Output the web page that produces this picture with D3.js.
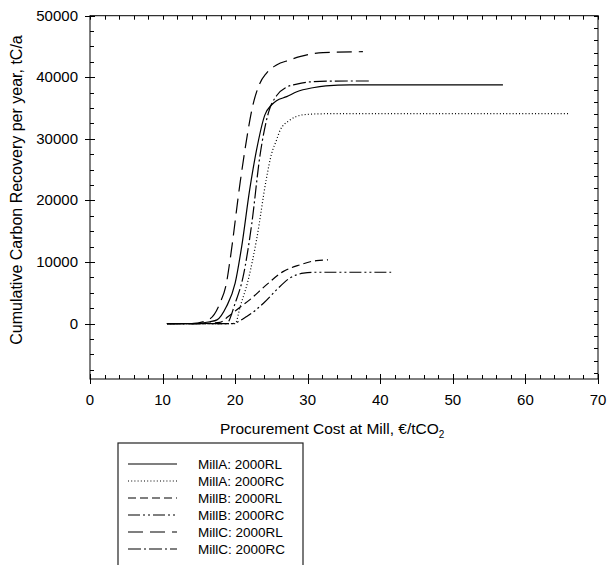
<!DOCTYPE html>
<html>
<head>
<meta charset="utf-8">
<script src="https://cdn.jsdelivr.net/npm/d3@7"></script>
<style>
  body { margin: 0; background: #fff; }
  svg { font-family: "Liberation Sans", Arial, sans-serif; }
</style>
</head>
<body>
<div id="root"></div>
<script>
const width = 608;
const height = 565;

// series data (cost €/tCO2, carbon tC/a)
const millA_RL_x = [10.6, 14, 16.5, 17.5, 18.8, 20.0, 20.9, 22.0, 22.95, 24.1, 25.0, 25.7, 27.1, 28.5, 30.7, 32.5, 35.8, 45, 56.9];
const millA_RL_y = [0, 0, 300, 600, 2760, 6560, 12500, 21700, 28200, 33900, 35500, 36200, 36850, 37650, 38300, 38600, 38750, 38750, 38750];

const millA_RC_x = [10.6, 15, 18, 20.0, 20.7, 21.8, 22.95, 24.3, 25.0, 25.7, 26.2, 27.5, 29.3, 31.2, 34, 66];
const millA_RC_y = [0, 0, 0, 0, 2760, 7100, 13600, 23500, 27500, 29800, 31400, 33000, 33900, 34050, 34100, 34100];

const millB_RL_x = [10.6, 15, 17.9, 19.05, 20.5, 22.0, 24.3, 26.6, 28.9, 31.2, 32.8];
const millB_RL_y = [0, 0, 200, 1140, 2500, 3850, 6280, 8440, 9530, 10230, 10340];

const millB_RC_x = [10.6, 15, 19.5, 21.6, 23.9, 25.7, 27.5, 29.4, 31.2, 41.5];
const millB_RC_y = [0, 0, 0, 1140, 3300, 5470, 7370, 8180, 8340, 8340];

const millC_RL_x = [10.6, 14, 16.3, 17.9, 18.8, 19.3, 20.7, 21.8, 22.3, 23.4, 24.3, 25.7, 27.5, 28.9, 32.1, 37.6];
const millC_RL_y = [0, 0, 600, 3300, 6560, 10340, 23000, 31500, 34700, 39000, 40650, 42000, 42800, 43350, 44000, 44150];

const millC_RC_x = [10.6, 15, 18.8, 20.0, 21.1, 22.3, 23.4, 24.6, 25.7, 27.1, 28.5, 30.3, 33, 38.8];
const millC_RC_y = [0, 0, 0, 3300, 7630, 16300, 27100, 34300, 37000, 38400, 38900, 39250, 39380, 39400];

const seriesNames = ["MillA: 2000RL", "MillA: 2000RC", "MillB: 2000RL", "MillB: 2000RC", "MillC: 2000RL", "MillC: 2000RC"];
const xTicks = [0, 10, 20, 30, 40, 50, 60, 70];
const yTicks = [0, 10000, 20000, 30000, 40000, 50000];

const dashes = [null, "1,2.2", "8,4", "12,3,2,3,2,3", "15,7", "13,3,2,3"];

const series = [
  [millA_RL_x, millA_RL_y], [millA_RC_x, millA_RC_y],
  [millB_RL_x, millB_RL_y], [millB_RC_x, millB_RC_y],
  [millC_RL_x, millC_RL_y], [millC_RC_x, millC_RC_y]
].map((s, i) => ({ name: seriesNames[i], dash: dashes[i], pts: s[0].map((x, j) => [x, s[1][j]]) }));

const plotL = 90, plotR = 598, plotT = 15.7, plotB = 379;

const svg = d3.select("#root").append("svg")
  .attr("width", width)
  .attr("height", height);

const x = d3.scaleLinear().domain([0, 70]).range([plotL, plotR]);
const y = d3.scaleLinear().domain([-9000, 50000]).range([plotB, plotT]);

// frame
svg.append("rect")
  .attr("x", plotL).attr("y", plotT)
  .attr("width", plotR - plotL).attr("height", plotB - plotT)
  .attr("fill", "none").attr("stroke", "#000").attr("stroke-width", 1);

const tickG = svg.append("g").attr("stroke", "#000").attr("stroke-width", 1);

// bottom + top ticks every 2
d3.range(0, 70.01, 2).forEach(v => {
  const major = v % 10 === 0;
  const px = Math.round(x(v)) + 0.5;
  tickG.append("line").attr("x1", px).attr("x2", px)
    .attr("y1", major ? plotB + 5 : plotB).attr("y2", plotB - (major ? 5 : 4));
  tickG.append("line").attr("x1", px).attr("x2", px)
    .attr("y1", plotT).attr("y2", plotT + 4);
});

// left ticks every 2500
d3.range(-7500, 50001, 2500).forEach(v => {
  const major = v % 10000 === 0;
  const py = Math.round(y(v)) + 0.5;
  tickG.append("line").attr("y1", py).attr("y2", py)
    .attr("x1", major ? plotL - 5 : plotL).attr("x2", plotL + (major ? 5 : 4));
});

// right ticks every 2000
d3.range(-8000, 50001, 2000).forEach(v => {
  const py = Math.round(y(v)) + 0.5;
  tickG.append("line").attr("y1", py).attr("y2", py)
    .attr("x1", plotR).attr("x2", plotR - 4);
});

svg.append("g").selectAll("text")
  .data(xTicks).enter().append("text")
  .attr("x", d => x(d))
  .attr("y", 405)
  .attr("text-anchor", "middle")
  .attr("font-size", "15px")
  .text(d => d);

svg.append("g").selectAll("text")
  .data(yTicks).enter().append("text")
  .attr("x", 78)
  .attr("y", d => y(d) + 5)
  .attr("text-anchor", "end")
  .attr("font-size", "15px")
  .text(d => d);

// axis titles
const xt = svg.append("text")
  .attr("x", 220).attr("y", 434)
  .attr("font-size", "15.5px");
xt.append("tspan").text("Procurement Cost at Mill, €/tCO");
xt.append("tspan").attr("dy", 4).attr("font-size", "10px").text("2");

svg.append("text")
  .attr("transform", "translate(22,190) rotate(-90)")
  .attr("text-anchor", "middle")
  .attr("font-size", "16px")
  .text("Cumulative Carbon Recovery per year, tC/a");

// curves
const line = d3.line()
  .x(d => x(d[0]))
  .y(d => y(d[1]))
  .curve(d3.curveMonotoneX);

svg.append("g").selectAll("path")
  .data(series).enter().append("path")
  .attr("d", d => line(d.pts))
  .attr("fill", "none")
  .attr("stroke", "#000")
  .attr("stroke-width", 1.2)
  .attr("stroke-dasharray", d => d.dash);

// legend
const legend = svg.append("g").attr("id", "legend");
legend.append("rect")
  .attr("x", 118).attr("y", 443)
  .attr("width", 303 - 118).attr("height", 140)
  .attr("fill", "none").attr("stroke", "#222").attr("stroke-width", 1.2);

legend.selectAll("line")
  .data(series).enter().append("line")
  .attr("x1", 128).attr("x2", 177)
  .attr("y1", (d, i) => 464 + i * 17)
  .attr("y2", (d, i) => 464 + i * 17)
  .attr("stroke", "#000").attr("stroke-width", 1.2)
  .attr("stroke-dasharray", d => d.dash);

legend.selectAll("text")
  .data(series).enter().append("text")
  .attr("x", 198)
  .attr("y", (d, i) => 469 + i * 17)
  .attr("font-size", "13.5px")
  .text(d => d.name);
</script>
</body>
</html>
